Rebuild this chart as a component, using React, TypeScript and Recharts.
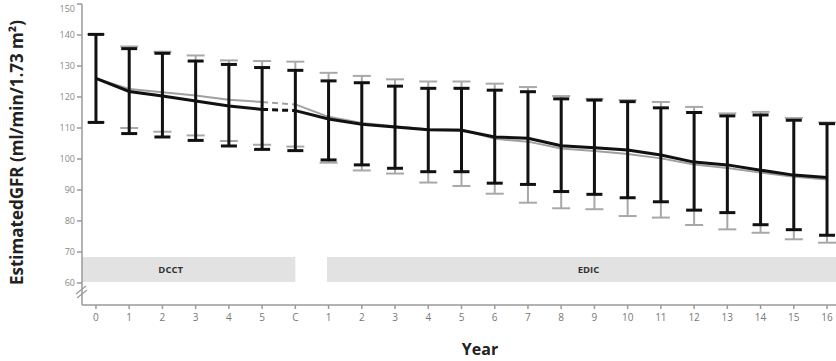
import React from 'react';
import { LineChart, Line, XAxis, YAxis, ErrorBar, ReferenceArea, Label } from 'recharts';

const yearLabels = ['0', '1', '2', '3', '4', '5', 'C', '1', '2', '3', '4', '5', '6', '7', '8', '9', '10', '11', '12', '13', '14', '15', '16'];
const yTicks = [52.9, 60, 70, 80, 90, 100, 110, 120, 130, 140, 150];

// black group
const blackMean = [126, 121.8, 120.3, 118.7, 117.1, 116.0, 115.6, 112.9, 111.2, 110.3, 109.4, 109.3, 107.1, 106.7, 104.3, 103.6, 102.9, 101.3, 99.0, 98.1, 96.4, 94.8, 94.0];
const blackLow = [111.8, 108.2, 107.1, 106.0, 104.2, 103.1, 102.7, 99.7, 98.1, 97.0, 95.9, 95.9, 92.2, 91.8, 89.5, 88.6, 87.5, 86.2, 83.5, 82.7, 78.8, 77.2, 75.4];
const blackHigh = [140.2, 135.6, 134.1, 131.6, 130.5, 129.5, 128.6, 125.2, 124.6, 123.5, 122.8, 122.8, 122.2, 121.7, 119.4, 119.0, 118.5, 116.5, 115.0, 113.9, 114.2, 112.5, 111.4];

// gray group
const grayMean = [126, 122.6, 121.5, 120.5, 119.1, 118.4, 117.6, 113.6, 111.6, 110.6, 109.6, 109.5, 106.5, 105.6, 103.4, 102.6, 101.6, 100.2, 98.2, 97.1, 95.6, 94.3, 93.4];
const grayLow = [111.8, 110.0, 108.8, 107.6, 105.8, 104.6, 104.0, 98.8, 96.3, 95.3, 92.4, 91.3, 88.8, 85.9, 84.1, 83.8, 81.6, 81.1, 78.7, 77.3, 76.2, 74.1, 73.0];
const grayHigh = [140.2, 136.3, 134.6, 133.4, 131.8, 131.6, 131.4, 127.8, 126.8, 125.7, 125.0, 125.0, 124.3, 123.2, 120.3, 119.4, 119.0, 118.4, 116.8, 114.7, 115.2, 113.2, 111.8];

const LAST_DCCT = 5;
const CLOSEOUT = 6;

const data = yearLabels.map((label, i) => ({
  x: i,
  label,
  bm: blackMean[i],
  bA: i <= LAST_DCCT ? blackMean[i] : null,
  bB: i >= CLOSEOUT ? blackMean[i] : null,
  bD: i === LAST_DCCT || i === CLOSEOUT ? blackMean[i] : null,
  bErr: [blackMean[i] - blackLow[i], blackHigh[i] - blackMean[i]],
  gm: grayMean[i],
  gA: i <= LAST_DCCT ? grayMean[i] : null,
  gB: i >= CLOSEOUT ? grayMean[i] : null,
  gD: i === LAST_DCCT || i === CLOSEOUT ? grayMean[i] : null,
  gErr: [grayMean[i] - grayLow[i], grayHigh[i] - grayMean[i]],
}));

const xTicks = yearLabels.map((_, i) => i);
const font = '"Open Sans", sans-serif';
const axisColor = '#9a9a9a';

// y tick: broken axis shows "0" at the bottom; keep the top label inside the frame
const YTick = (props: any) => {
  const { x, y, payload } = props;
  const v = payload.value;
  const text = v < 55 ? '0' : String(v);
  const yy = Math.max(y, 7);
  return (
    <text x={x} y={yy} dy={3} textAnchor="end" fill="#888" fontSize={9} fontFamily={font}>
      {text}
    </text>
  );
};

export default function App() {
  return (
    <div style={{ position: 'absolute', left: 0, top: 0, background: '#fff' }}>
      <LineChart width={836} height={361} data={data} margin={{ top: 4, right: 0, left: 0, bottom: 0 }}>
        <XAxis
          type="number"
          dataKey="x"
          domain={[-0.42, 22.27]}
          ticks={xTicks}
          allowDataOverflow
          tickFormatter={(i: number) => yearLabels[i]}
          height={56}
          tickSize={4}
          tickMargin={5}
          stroke={axisColor}
          strokeWidth={1.5}
          tick={{ fill: '#777', fontSize: 10, fontFamily: font }}
        >
          <Label
            content={() => (
              <text x={480} y={355} textAnchor="middle" fontFamily={font} fontWeight={700} fontSize={16} fill="#222">
                Year
              </text>
            )}
          />
        </XAxis>
        <YAxis
          type="number"
          domain={[52.9, 150]}
          ticks={yTicks}
          allowDataOverflow
          width={82}
          tickSize={5}
          tick={<YTick />}
          stroke={axisColor}
          strokeWidth={1.5}
        >
          <Label
            content={() => (
              <g>
                <text
                  x={0}
                  y={0}
                  transform="translate(23 285) rotate(-90)"
                  textAnchor="start"
                  fontFamily={font}
                  fontWeight={700}
                  fontSize={17}
                  fill="#222"
                >
                  EstimatedGFR (ml/min/1.73 m²)
                </text>
                <line x1={76} y1={294} x2={86} y2={286} stroke={axisColor} strokeWidth={1.2} />
                <line x1={77} y1={298} x2={87} y2={290} stroke={axisColor} strokeWidth={1.2} />
              </g>
            )}
          />
        </YAxis>

        <ReferenceArea
          x1={-0.42}
          x2={6}
          y1={60.3}
          y2={68.4}
          fill="#e2e2e2"
          fillOpacity={1}
          stroke="none"
          label={{ value: 'DCCT', position: 'center', dx: -18, fontSize: 9.5, fontWeight: 700, fill: '#333', fontFamily: font }}
        />
        <ReferenceArea
          x1={6.95}
          x2={22.27}
          y1={60.3}
          y2={68.4}
          fill="#e2e2e2"
          fillOpacity={1}
          stroke="none"
          label={{ value: 'EDIC', position: 'center', dx: 7, fontSize: 9.5, fontWeight: 700, fill: '#333', fontFamily: font }}
        />

        <Line dataKey="gm" stroke="none" dot={false} isAnimationActive={false} legendType="none">
          <ErrorBar dataKey="gErr" width={9} strokeWidth={2} stroke="#a8a8a8" direction="y" />
        </Line>
        <Line dataKey="gA" stroke="#a0a0a0" strokeWidth={2} dot={false} isAnimationActive={false} />
        <Line dataKey="gB" stroke="#a0a0a0" strokeWidth={2} dot={false} isAnimationActive={false} />
        <Line dataKey="gD" stroke="#a0a0a0" strokeWidth={2} strokeDasharray="6 4" dot={false} isAnimationActive={false} />

        <Line dataKey="bm" stroke="none" dot={false} isAnimationActive={false} legendType="none">
          <ErrorBar dataKey="bErr" width={8} strokeWidth={3} stroke="#111" direction="y" />
        </Line>
        <Line dataKey="bA" stroke="#111" strokeWidth={3} dot={false} isAnimationActive={false} />
        <Line dataKey="bB" stroke="#111" strokeWidth={3} dot={false} isAnimationActive={false} />
        <Line dataKey="bD" stroke="#111" strokeWidth={3} strokeDasharray="6 4" dot={false} isAnimationActive={false} />
      </LineChart>
    </div>
  );
}
